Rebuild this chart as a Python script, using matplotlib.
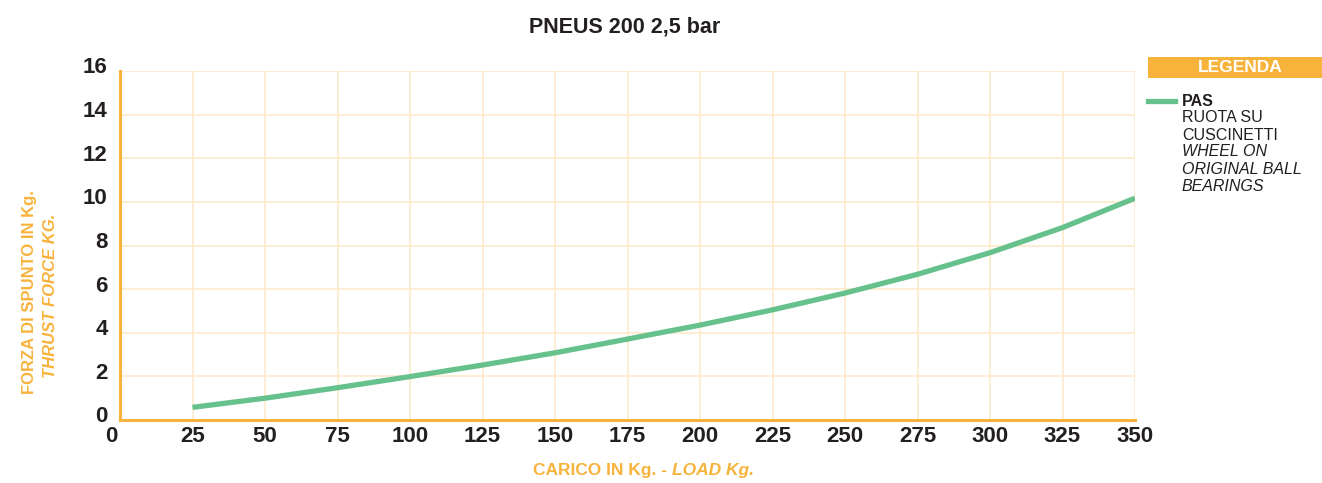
import matplotlib
matplotlib.use("Agg")
import matplotlib.pyplot as plt
import matplotlib.transforms as mtransforms
from matplotlib.patches import Rectangle
from matplotlib.lines import Line2D

plt.rcParams['font.family'] = ['Liberation Sans', 'DejaVu Sans']

# data
carico = [25, 50, 75, 100, 125, 150, 175, 200, 225, 250, 275, 300, 325, 350]
forza = [0.58, 1.0, 1.48, 1.99, 2.52, 3.08, 3.71, 4.35, 5.05, 5.82, 6.68, 7.67, 8.82, 10.17]
xticks = [0, 25, 50, 75, 100, 125, 150, 175, 200, 225, 250, 275, 300, 325, 350]
yticks = [0, 2, 4, 6, 8, 10, 12, 14, 16]
legend_lines = [("RUOTA SU", "normal"), ("CUSCINETTI", "normal"),
                ("WHEEL ON", "italic"), ("ORIGINAL BALL", "italic"),
                ("BEARINGS", "italic")]

orange = '#F8B33C'
grid_c = '#FDEBCB'
green = '#66C18C'
dark = '#231F20'

W, H = 1322, 483
fig = plt.figure(figsize=(W / 100, H / 100), dpi=100)
ax = fig.add_axes([120 / W, 1 - 420 / H, (1135 - 120) / W, (420 - 71) / H])

ax.set_xlim(0, 350)
ax.set_ylim(0, 16)
ax.set_xticks(xticks)
ax.set_yticks(yticks)
for x in xticks[1:]:
    ax.axvline(x, color=grid_c, lw=1.2, zorder=0)
for y in yticks[1:]:
    ax.axhline(y, color=grid_c, lw=1.2, zorder=0)

ax.plot(carico, forza, color=green, lw=3.8, solid_capstyle='butt', zorder=3)

for s in ['top', 'right']:
    ax.spines[s].set_visible(False)
for s in ['left', 'bottom']:
    ax.spines[s].set_color(orange)
    ax.spines[s].set_linewidth(2.2)
ax.tick_params(length=0, labelsize=16, colors=dark)
ax.tick_params(axis='x', pad=4)
ax.tick_params(axis='y', pad=9)

# y labels sit a bit above their gridlines in the reference
up = mtransforms.ScaledTranslation(0, 4 / 72, fig.dpi_scale_trans)
for lab in ax.get_yticklabels():
    lab.set_fontweight('bold')
    lab.set_transform(lab.get_transform() + up)
left = mtransforms.ScaledTranslation(-6 / 72, 0, fig.dpi_scale_trans)
for i, lab in enumerate(ax.get_xticklabels()):
    lab.set_fontweight('bold')
    if i == 0:
        lab.set_transform(lab.get_transform() + left)

fig.text(625 / W, 1 - 27 / H, "PNEUS 200 2,5 bar", ha='center', va='center',
         fontsize=15.5, fontweight='bold', color=dark)

# x label: normal bold + italic bold part
fig.text(672 / W, 1 - 470 / H, "CARICO IN Kg. - ", ha='right', va='center',
         fontsize=12.5, fontweight='bold', color=orange)
fig.text(672 / W, 1 - 470 / H, "LOAD Kg.", ha='left', va='center',
         fontsize=12.5, fontweight='bold', style='italic', color=orange)

# y label two lines
fig.text(30 / W, 1 - 292 / H, "FORZA DI SPUNTO IN Kg.", rotation=90,
         ha='center', va='center', fontsize=12, fontweight='bold', color=orange)
fig.text(51 / W, 1 - 296 / H, "THRUST FORCE KG.", rotation=90,
         ha='center', va='center', fontsize=12, fontweight='bold',
         style='italic', color=orange)

# legend
fig.add_artist(Rectangle((1148 / W, 1 - 78 / H), (W - 1148) / W, 21 / H,
                         transform=fig.transFigure, color=orange, lw=0))
fig.text(1240 / W, 1 - 68 / H, "LEGENDA", ha='center', va='center',
         fontsize=12.5, fontweight='bold', color='white')
fig.add_artist(Line2D([1148 / W, 1175 / W], [1 - 101 / H, 1 - 101 / H],
                      transform=fig.transFigure, color=green, lw=3.8))
fig.text(1182 / W, 1 - 101 / H, "PAS", ha='left', va='center',
         fontsize=11.5, fontweight='bold', color=dark)
for i, (txt, st) in enumerate(legend_lines):
    fig.text(1182 / W, 1 - (118 + 17 * i) / H, txt, ha='left', va='center',
             fontsize=11.5, style=st, color=dark)

fig.savefig("out.png", dpi=100)
